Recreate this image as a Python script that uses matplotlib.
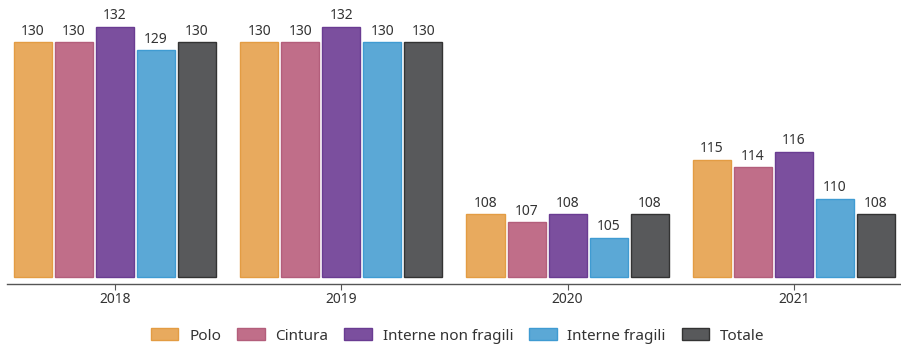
import matplotlib
matplotlib.use("Agg")
import matplotlib.pyplot as plt
import numpy as np

plt.rcParams["font.family"] = ["Noto Sans", "DejaVu Sans"]

# Dati per anno e per tipologia di area
anni = ["2018", "2019", "2020", "2021"]
serie = ["Polo", "Cintura", "Interne non fragili", "Interne fragili", "Totale"]
polo = [130, 130, 108, 115]
cintura = [130, 130, 107, 114]
interne_non_fragili = [132, 132, 108, 116]
interne_fragili = [129, 130, 105, 110]
totale = [130, 130, 108, 108]

valori = [polo, cintura, interne_non_fragili, interne_fragili, totale]
colori = ["#E8AA5E", "#C06E89", "#7B4F9E", "#5BA8D6", "#58595B"]
bordi = ["#E39C43", "#B35E7B", "#6A3C92", "#3F9BD2", "#333333"]

base = 100
passo = 0.1814
larghezza = 0.168

fig = plt.figure(figsize=(9.01, 3.44), dpi=100)
ax = fig.add_axes([7 / 901, 60 / 344, 1 - 7 / 901, 1 - 60 / 344])

x = np.arange(len(anni))
for i, (vals, col, bordo, nome) in enumerate(zip(valori, colori, bordi, serie)):
    pos = x + (i - 2) * passo
    altezze = [v - base for v in vals]
    ax.bar(pos, altezze, width=larghezza, bottom=base, color=col,
           edgecolor=bordo, linewidth=1.0, label=nome)
    for px, v in zip(pos, vals):
        ax.annotate(str(v), xy=(px, v), xytext=(0, 2.5), textcoords="offset points",
                    ha="center", va="bottom", fontsize=10, color="#333333")

ax.set_xlim(-0.477, 3.473)
ax.set_ylim(99.1, 135.4)
ax.set_xticks(x)
ax.set_xticklabels(anni, fontsize=10, color="#333333")
ax.tick_params(axis="x", length=4, width=0.8, color="#555555", pad=1.5)
ax.set_yticks([])
for lato in ["top", "right", "left"]:
    ax.spines[lato].set_visible(False)
ax.spines["bottom"].set_color("#555555")
ax.spines["bottom"].set_linewidth(1.0)

fig.legend(loc="center", bbox_to_anchor=(0.508, 8 / 344), ncol=5,
           frameon=False, fontsize=11, handlelength=1.8, handleheight=0.85,
           handletextpad=0.7, columnspacing=1.05, labelcolor="#333333")

fig.savefig("out.png", dpi=100)
